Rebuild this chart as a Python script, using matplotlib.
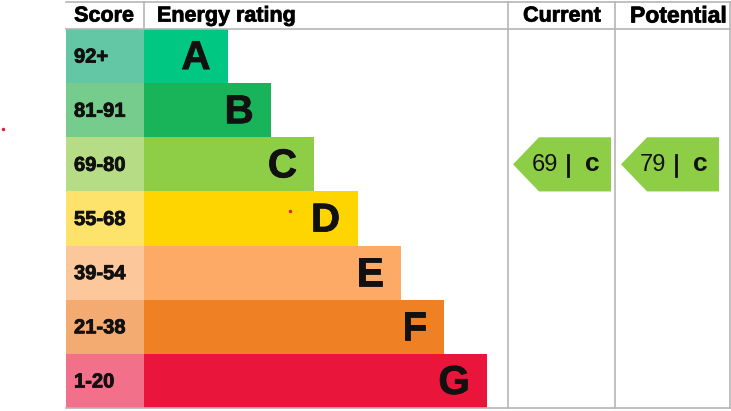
import matplotlib.pyplot as plt
from matplotlib.patches import Rectangle, Polygon
import matplotlib.patheffects as pe

plt.rcParams['font.family'] = ['Liberation Sans', 'DejaVu Sans']

# data
bands = ['A', 'B', 'C', 'D', 'E', 'F', 'G']
score_ranges = ['92+', '81-91', '69-80', '55-68', '39-54', '21-38', '1-20']
bar_colors = ['#00c781', '#19b459', '#8dce46', '#ffd500', '#fcaa65', '#ef8023', '#e9153b']
score_colors = ['#63c6a5', '#76cc8c', '#b6dd86', '#fde36b', '#fcc89b', '#f4ab72', '#f27089']
current_score, current_band = 69, 'c'
potential_score, potential_band = 79, 'c'
arrow_color = '#8dce46'

W, H = 731, 411
fig = plt.figure(figsize=(W / 100, H / 100), dpi=100)
ax = fig.add_axes([0, 0, 1, 1])
ax.set_xlim(0, W)
ax.set_ylim(H, 0)
ax.axis('off')

top, head, bottom = 2.5, 29, 408
left, col1, col2, col3, right = 66, 144, 508, 615, 729.5
row_h = (bottom - head) / len(bands)
bar_start_w = 84
bar_step = 43.2

heavy = [pe.withStroke(linewidth=0.6, foreground='#111111')]

grid = '#b5b5b5'
for i, (b, s) in enumerate(zip(bands, score_ranges)):
    y0 = head + i * row_h
    ax.add_patch(Rectangle((left, y0), col1 - left, row_h, color=score_colors[i], lw=0))
    w = bar_start_w + i * bar_step
    ax.add_patch(Rectangle((col1, y0), w, row_h, color=bar_colors[i], lw=0))
    ax.text(74, y0 + row_h / 2 + 1, s, fontsize=14.5, fontweight='bold', va='center', ha='left',
            color='#111111', path_effects=heavy)
    ax.text(col1 + w - 17.5, y0 + row_h / 2 + 2, b, fontsize=29, fontweight='bold', va='center', ha='right',
            color='#111111', path_effects=heavy)

# grid lines
ax.plot([left, right], [top, top], color=grid, lw=1.2)
ax.plot([left, right], [head, head], color=grid, lw=1.2)
ax.plot([left, right], [bottom, bottom], color=grid, lw=1.2)
ax.plot([col1, col1], [top, head], color=grid, lw=1.2)
for x in [col2, col3, right]:
    ax.plot([x, x], [top, bottom], color=grid, lw=1.2)

# headers
ax.text(104, 16, 'Score', fontsize=15.5, fontweight='bold', ha='center', va='center', path_effects=heavy)
ax.text(157, 16, 'Energy rating', fontsize=15.5, fontweight='bold', ha='left', va='center', path_effects=heavy)
ax.text(562, 16, 'Current', fontsize=15.5, fontweight='bold', ha='center', va='center', path_effects=heavy)
ax.text(630, 16, 'Potential', fontsize=16.5, fontweight='bold', ha='left', va='center', path_effects=heavy)


def arrow(x_tip, x_right, score, band):
    # place arrow on the row matching the score band
    i = bands.index(band.upper())
    y0 = head + i * row_h
    y1 = y0 + row_h
    ym = (y0 + y1) / 2
    pts = [(x_tip, ym), (x_tip + 26, y0), (x_right, y0), (x_right, y1), (x_tip + 26, y1)]
    ax.add_patch(Polygon(pts, closed=True, color=arrow_color, lw=0))
    ax.text(x_tip + 19, ym + 1, str(score), fontsize=17, ha='left', va='center', color='#111111')
    ax.plot([x_tip + 55, x_tip + 55], [ym - 9, ym + 12], color='#111111', lw=2)
    ax.text(x_tip + 79, ym, band, fontsize=19, fontweight='bold', ha='center', va='center', color='#111111')


arrow(513, 611, current_score, current_band)
arrow(621, 719, potential_score, potential_band)

# stray red dots in the source image
ax.plot([3, 290], [129, 211], 'o', color='#e9153b', ms=2.5, mew=0)

fig.savefig('out.png', dpi=100)
